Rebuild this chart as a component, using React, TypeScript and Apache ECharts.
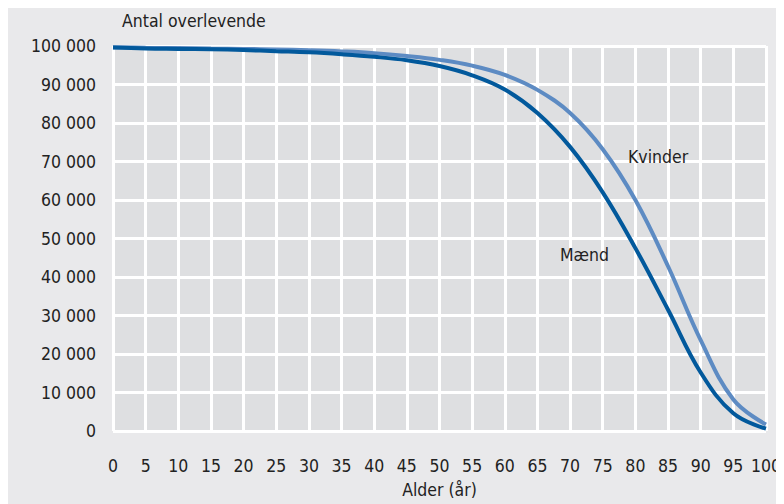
import React, { useEffect, useRef } from "react";
import * as echarts from "echarts";

const ages = [0, 5, 10, 15, 20, 25, 30, 35, 40, 45, 50, 55, 60, 65, 70, 75, 80, 85, 90, 95, 100];
const maend = [99600, 99350, 99250, 99150, 98950, 98650, 98350, 97850, 97200, 96300, 94800, 92400, 88700, 82600, 73800, 62000, 47500, 31500, 15200, 4600, 600];
const kvinder = [99700, 99550, 99450, 99350, 99250, 99100, 98900, 98600, 98150, 97400, 96400, 94900, 92500, 88600, 82600, 73200, 60000, 42800, 23600, 8200, 1700];
const yTitle = "Antal overlevende";
const xTitle = "Alder (år)";
const labelMaend = "Mænd";
const labelKvinder = "Kvinder";

const FONT = "'Liberation Sans Narrow', 'DejaVu Sans Condensed', sans-serif";

function fmt(v: number) {
  const s = String(v);
  return s.replace(/\B(?=(\d{3})+(?!\d))/g, " ");
}

export default function App() {
  const ref = useRef<HTMLDivElement>(null);
  useEffect(() => {
    const chart = echarts.init(ref.current!, undefined, { renderer: "svg" });
    chart.setOption({
      animation: false,
      backgroundColor: "#e9e9eb",
      textStyle: { fontFamily: FONT },
      grid: {
        left: 105,
        right: 16,
        top: 38,
        bottom: 72,
        show: true,
        backgroundColor: "#dedfe1",
        borderWidth: 0,
      },
      xAxis: {
        type: "value",
        min: 0,
        max: 100,
        interval: 5,
        name: xTitle,
        nameLocation: "middle",
        nameGap: 50,
        nameTextStyle: { fontFamily: FONT, fontSize: 17.5, color: "#222" },
        axisLine: { show: false },
        axisTick: { show: false },
        axisLabel: { fontFamily: FONT, fontSize: 17.5, color: "#222", margin: 26 },
        splitLine: { show: true, lineStyle: { color: "#ffffff", width: 3 } },
      },
      yAxis: {
        type: "value",
        min: 0,
        max: 100000,
        interval: 10000,
        axisLine: { show: false },
        axisTick: { show: false },
        axisLabel: { fontFamily: FONT, fontSize: 17.5, color: "#222", margin: 17, formatter: (v: number) => fmt(v) },
        splitLine: { show: true, lineStyle: { color: "#ffffff", width: 3 } },
      },
      graphic: [
        { type: "text", z: 100, left: 114, top: 4, style: { text: yTitle, font: `17.5px ${FONT}`, fill: "#222" } },
        { type: "text", z: 100, left: 620, top: 140, style: { text: labelKvinder, font: `17.5px ${FONT}`, fill: "#222" } },
        { type: "text", z: 100, left: 552, top: 238, style: { text: labelMaend, font: `17.5px ${FONT}`, fill: "#222" } },
      ],
      series: [
        {
          name: labelKvinder,
          type: "line",
          smooth: 0.4,
          showSymbol: false,
          data: ages.map((a, i) => [a, kvinder[i]]),
          lineStyle: { color: "#5d8bc3", width: 4 },
        },
        {
          name: labelMaend,
          type: "line",
          smooth: 0.4,
          showSymbol: false,
          data: ages.map((a, i) => [a, maend[i]]),
          lineStyle: { color: "#02599c", width: 4 },
        },
      ],
    });
    return () => chart.dispose();
  }, []);
  return <div ref={ref} style={{ width: 776, height: 496 }} />;
}
